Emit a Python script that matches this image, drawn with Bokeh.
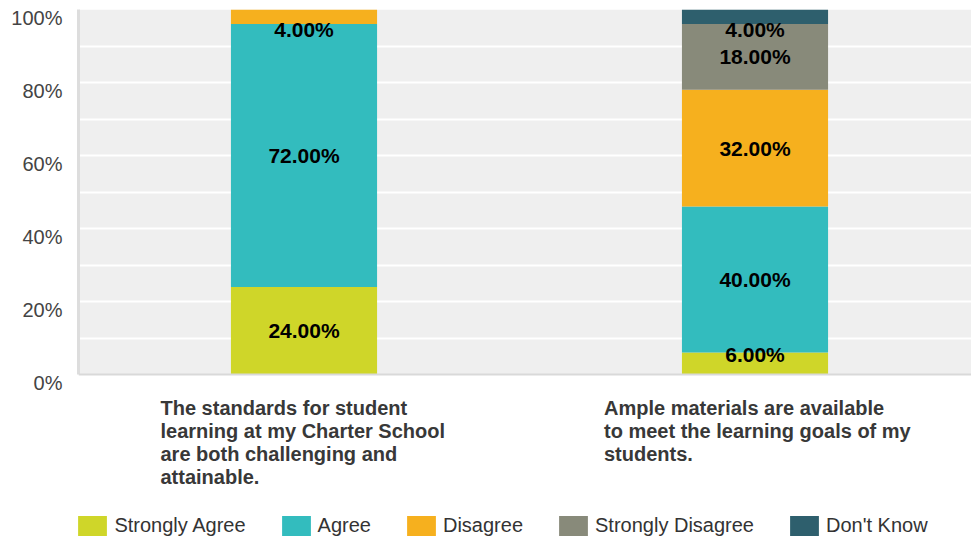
from bokeh.plotting import figure
from bokeh.models import (Range1d, ColumnDataSource, FixedTicker, Label, Legend,
                          LegendItem, BoxAnnotation, Span, LinearAxis, CustomJSTickFormatter)
from bokeh.core.properties import value
from bokeh.embed import file_html
from bokeh.resources import INLINE

# ---------------- data ----------------
categories = [
    "The standards for student\nlearning at my Charter School\nare both challenging and\nattainable.",
    "Ample materials are available\nto meet the learning goals of my\nstudents.",
]
series_names = ["Strongly Agree", "Agree", "Disagree", "Strongly Disagree", "Don't Know"]
strongly_agree = [24.0, 6.0]
agree = [72.0, 40.0]
disagree = [4.0, 32.0]
strongly_disagree = [0.0, 18.0]
dont_know = [0.0, 4.0]
y_ticks = [0, 20, 40, 60, 80, 100]
y_tick_labels = ["0%", "20%", "40%", "60%", "80%", "100%"]

# ---------------- layout / styles ----------------
W, H = 971, 540
LEFT, TOP = 78, 9
PX_PER_PCT = 3.65          # plot height of 100% = 365 px
PX_PER_CAT = 451           # distance between bar centres
LABEL_DROP_PX = 8.5        # y tick labels sit a little below their grid line
colors = ["#cfd629", "#33bcbe", "#f6b01e", "#888a7a", "#2e5f6d"]
FONT = "Liberation Sans"
cat_label_offsets = [-143.5, -151]   # px offset of left-aligned text block from bar centre

series = [strongly_agree, agree, disagree, strongly_disagree, dont_know]
xs = list(range(len(categories)))

data = {"x": xs}
for name, vals in zip(series_names, series):
    data[name] = vals
source = ColumnDataSource(data)

frame_w = W - LEFT
frame_h = H - TOP
y_start = 100 - frame_h / PX_PER_PCT
x_start = -0.5
x_end = x_start + frame_w / PX_PER_CAT

p = figure(width=W, height=H, x_range=Range1d(x_start, x_end), y_range=Range1d(y_start, 100),
           output_backend="svg", toolbar_location=None, x_axis_location=None,
           min_border_left=LEFT, min_border_right=0, min_border_top=TOP, min_border_bottom=0)
p.background_fill_color = "white"
p.border_fill_color = "white"
p.outline_line_color = None

# grey plotting area 0..100 %
p.add_layout(BoxAnnotation(bottom=0, top=100, fill_color="#efefef", fill_alpha=1,
                           line_color=None, level="image"))

renderers = p.vbar_stack(series_names, x="x", width=0.324, color=colors, source=source,
                         line_color=None)

# baseline
p.add_layout(Span(location=0, dimension="width", line_color="#d9d9d9", line_width=2))

# segment labels
lx, ly, lt = [], [], []
for i in xs:
    base = 0.0
    for vals in series:
        v = vals[i]
        if v > 0:
            mid = base + v / 2.0
            mid = min(max(mid, 5.5), 94.5)
            lx.append(i)
            ly.append(mid)
            lt.append(f"{v:.2f}%")
        base += v
p.text(x=lx, y=ly, text=lt, text_align="center", text_baseline="middle",
       text_font=value(FONT), text_font_style="bold", text_font_size="21px",
       text_color="black")

# y axis line (0..100 only)
ya = p.yaxis[0]
ya.ticker = FixedTicker(ticks=[])
ya.bounds = (0, 100)
ya.major_tick_line_color = None
ya.minor_tick_line_color = None
ya.major_tick_out = 0
ya.major_tick_in = 0
ya.major_label_text_font_size = "0px"
ya.major_label_standoff = 0
ya.axis_line_color = "#dddddd"
ya.axis_line_width = 3

# y tick labels, placed slightly below their grid lines
shift = LABEL_DROP_PX / PX_PER_PCT
label_axis = LinearAxis(
    ticker=FixedTicker(ticks=[t - shift for t in y_ticks]),
    formatter=CustomJSTickFormatter(args=dict(labels=y_tick_labels),
                                    code="return labels[index];"),
    axis_line_color=None, major_tick_line_color=None, minor_tick_line_color=None,
    major_tick_out=0, major_tick_in=0, major_label_standoff=16,
    major_label_text_font=FONT, major_label_text_font_size="20px",
    major_label_text_color="#444444")
p.add_layout(label_axis, "left")

p.xgrid.grid_line_color = None
p.ygrid.ticker = FixedTicker(ticks=list(range(10, 101, 10)))
p.ygrid.grid_line_color = "white"
p.ygrid.grid_line_width = 2
p.ygrid.level = "underlay"

# category labels
for i, (cat, off) in enumerate(zip(categories, cat_label_offsets)):
    p.add_layout(Label(x=i, y=0, x_offset=off, y_offset=-22, text=cat,
                       text_align="left", text_baseline="top",
                       text_font=FONT, text_font_style="bold", text_font_size="20px",
                       text_color="#383838", text_line_height=1.06))

# legend
items = [LegendItem(label=n, renderers=[r]) for n, r in zip(series_names, renderers)]
legend = Legend(items=items, orientation="horizontal", location=(-3.6, 2.5),
                spacing=32, label_standoff=4, glyph_width=36, glyph_height=25,
                label_height=25, padding=0, margin=0, border_line_color=None,
                background_fill_alpha=0, label_text_font=FONT,
                label_text_font_size="20px", label_text_color="#333333")
p.add_layout(legend, "center")

open("out.html", "w").write(file_html(p, INLINE))
